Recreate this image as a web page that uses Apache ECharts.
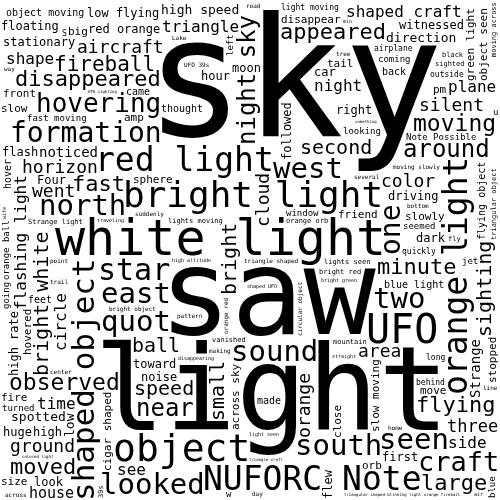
<!DOCTYPE html>
<html>
<head>
<meta charset="utf-8">
<script src="https://cdn.jsdelivr.net/npm/echarts@6/dist/echarts.min.js"></script>
<style>
  html, body { margin: 0; padding: 0; background: #fff; }
  #chart { width: 500px; height: 500px; }
</style>
</head>
<body>
<div id="chart"></div>
<script>
// words of the cloud and their weights (weight ~ font size in px)
const words = [
  'sky', 'saw', 'light', 'white light', 'UFO', 'object', 'bright light', 'NUFORC Note',
  'red light', 'orange light', 'shaped object', 'star', 'sound', 'quot', 'west', 'south',
  'north', 'two', 'looked', 'east', 'seen', 'formation', 'one', 'craft', 'hovering',
  'around', 'near', 'night sky', 'moving', 'observed', 'minute', 'moved', 'fast', 'flying',
  'disappeared', 'appeared', 'large', 'fireball', 'sighting', 'small', 'bright',
  'bright white', 'ball', 'second', 'speed', 'horizon', 'area', 'aircraft', 'color',
  'ground', 'went', 'silent', 'orange', 'cloud', 'three', 'time', 'night', 'side', 'shape',
  'plane', 'see', 'triangle', 'shaped craft', 'circle', 'flashing light', 'house',
  'noticed', 'Strange', 'low', 'direction', 'high speed', 'spotted', 'flying object',
  'cigar shaped', 'followed', 'green light', 'high rate', 'object seen', 'flew',
  'stationary', 'red orange', 'high', 'moon', 'low flying', 'floating', 'object moving',
  'noise', 'disappear', 'witnessed', 'fast moving', 'right', 'blue light', 'flash', 'dark',
  'huge', 'hour', 'driving', 'light moving', 'lights moving', 'toward', 'Four', 'first',
  'look', 'car', 'Note Possible', 'Strange light', 'moving slowly', 'bright red', 'thought',
  'slowly', 'orange orb', 'triangle shaped', 'close', 'slow moving', 'across sky',
  'hovered', 'tail', 'sphere', 'lights seen', 'looking', 'friend', 'big', 'move', 'size',
  'airplane', 'orb', 'slow', 'bright object', 'disappearing', 'front', 'mountain', 'fire',
  'pm', 'quickly', 'amp', 'stopped', 'turned', 'outside', 'vanished', 'feet', 'seemed',
  'made', 'came', 'window', 'coming', 'back', 'behind', 'hover', 'jet', 'going', 'left',
  'blue', 'orange ball', 'u', 'w', 'S', 'long', '39s', 'moving across', 'sighted',
  'suddenly', 'fly', 'high altitude', 'bright green', 'orange fireball', 'colored light',
  'black', 'pattern', 'UFO sighting', 'triangular object', 'light seen', 'road', 'home',
  'trail', 'bottom', 'making', 'UFO 39s', 'straight', 'traveling', 'tree', 'shaped UFO',
  'point', 'triangular shaped blinking light', 'across', 'Lake', 'several', 'orange red',
  'circular object', 'day', 'way', 'line', 'center', 'min', 'air', 'wife', 'something',
  'triangle craft'
];
const weights = [
  165, 120, 118, 50, 40, 38, 36, 33,
  33, 33, 31, 30, 29, 29, 29, 29,
  29, 29, 29, 29, 29, 28, 28, 27, 26,
  24, 24, 24, 23, 23, 22, 22, 22, 22,
  22, 22, 22, 21, 20, 20, 20,
  20, 20, 20, 20, 18, 18, 18, 18,
  18, 18, 18, 18, 18, 17, 16, 16, 16, 16,
  16, 16, 16, 16, 16, 16, 15,
  14, 14, 13, 13, 13, 13, 13,
  13, 12, 12, 12, 12, 12,
  12, 12, 12, 12, 12, 12, 12,
  12, 12, 12, 12, 12, 12, 12, 12,
  12, 12, 12, 12, 12, 12, 12, 12,
  12, 12, 12, 12, 12, 11, 11,
  11, 11, 11, 11, 11, 11,
  11, 11, 11, 11, 11, 11, 11, 11, 11,
  11, 11, 11, 11, 11, 11, 11, 11,
  11, 11, 11, 11, 10, 10, 10, 10, 10,
  10, 10, 10, 10, 10, 10, 10, 9, 9, 9,
  9, 9, 9, 9, 8, 8, 7, 7, 7,
  7, 7, 7, 7, 7, 7,
  7, 7, 7, 7, 6, 6, 6,
  6, 6, 6, 6, 6, 6, 6, 6,
  6, 6, 6, 6, 6, 6,
  6, 6, 6, 6, 6, 5, 5, 5, 4,
  4
];
// words that stand upright (read from bottom to top)
const verticalWords = [
  'orange light', 'shaped object', 'one', 'night sky', 'sighting', 'small', 'bright',
  'bright white', 'orange', 'cloud', 'circle', 'flashing light', 'Strange', 'low',
  'flying object', 'cigar shaped', 'followed', 'green light', 'high rate', 'object seen',
  'flew', 'close', 'slow moving', 'across sky', 'hovered', 'stopped', 'hover', 'going',
  'left', 'blue', 'orange ball', '39s', 'moving across', 'triangular object', 'orange red',
  'circular object', 'wife'
];

const FONT_FAMILY = '"DejaVu Sans Mono"';
const W = 500;
const H = 500;
const MARGIN = 2;
const MIN_SIZE = 4;
// where the layout starts (the heaviest word goes there) and the centre of the
// spiral the other words follow, as shares of width/height
const START = [0.6, 0.18];
const CENTER = [0.52, 0.66];
const TURN = -3.5;

// place the words: biggest first, each in the free box nearest to its spot on a
// golden-angle spiral, shrinking the word when no free box is left
function layoutWords() {
  const occ = new Uint8Array(W * H);
  const integral = new Int32Array((W + 1) * (H + 1));
  const rebuild = () => {
    for (let y = 0; y < H; y++) {
      let row = 0;
      for (let x = 0; x < W; x++) {
        row += occ[y * W + x];
        integral[(y + 1) * (W + 1) + x + 1] = integral[y * (W + 1) + x + 1] + row;
      }
    }
  };
  const mctx = document.createElement('canvas').getContext('2d');
  const order = words.map((w, i) => i).sort((a, b) => weights[b] - weights[a]);
  const placed = [];

  order.forEach((idx, k) => {
    const text = words[idx];
    const vertical = verticalWords.includes(text);
    let tx = W * START[0];
    let ty = H * START[1];
    if (k > 0) {
      const ang = k * 2.39996 + TURN;
      const rad = 360 * Math.sqrt((k + 0.5) / order.length);
      tx = Math.min(W, Math.max(0, W * CENTER[0] + rad * Math.cos(ang)));
      ty = Math.min(H, Math.max(0, H * CENTER[1] + rad * Math.sin(ang)));
    }

    for (let size = weights[idx]; size >= MIN_SIZE; size--) {
      const font = size + 'px ' + FONT_FAMILY;
      mctx.font = font;
      mctx.textAlign = 'left';
      mctx.textBaseline = 'middle';
      const m = mctx.measureText(text);
      const L = Math.ceil(m.actualBoundingBoxLeft);
      const R = Math.ceil(m.actualBoundingBoxRight);
      const A = Math.ceil(m.actualBoundingBoxAscent);
      const D = Math.ceil(m.actualBoundingBoxDescent);
      const bw = (vertical ? A + D : L + R) + 2 * MARGIN;
      const bh = (vertical ? L + R : A + D) + 2 * MARGIN;
      if (bw > W || bh > H) continue;

      let best = -1;
      let bestD = Infinity;
      for (let y = 0; y + bh <= H; y++) {
        const r0 = y * (W + 1);
        const r1 = (y + bh) * (W + 1);
        const cy = y + bh / 2 - ty;
        for (let x = 0; x + bw <= W; x++) {
          if (integral[r1 + x + bw] - integral[r0 + x + bw] - integral[r1 + x] + integral[r0 + x] === 0) {
            const cx = x + bw / 2 - tx;
            const d = cx * cx + cy * cy;
            if (d < bestD) { bestD = d; best = y * W + x; }
          }
        }
      }
      if (best < 0) continue;

      const bx = best % W;
      const by = Math.floor(best / W);
      const px = vertical ? MARGIN + A : MARGIN + L;
      const py = vertical ? MARGIN + R : MARGIN + A;

      // mark the ink of the word as taken
      const c = document.createElement('canvas');
      c.width = bw;
      c.height = bh;
      const ctx = c.getContext('2d');
      ctx.font = font;
      ctx.textAlign = 'left';
      ctx.textBaseline = 'middle';
      ctx.translate(px, py);
      if (vertical) ctx.rotate(-Math.PI / 2);
      ctx.fillText(text, 0, 0);
      const img = ctx.getImageData(0, 0, bw, bh).data;
      for (let y = 0; y < bh; y++) {
        for (let x = 0; x < bw; x++) {
          if (img[(y * bw + x) * 4 + 3] > 0) occ[(by + y) * W + bx + x] = 1;
        }
      }
      rebuild();
      placed.push({ text, size, vertical, x: bx + px, y: by + py });
      break;
    }
  });
  return placed;
}

const placed = layoutWords();
const chart = echarts.init(document.getElementById('chart'));
chart.setOption({
  backgroundColor: '#fff',
  animation: false,
  grid: { left: 0, right: 0, top: 0, bottom: 0 },
  xAxis: { type: 'value', min: 0, max: W, show: false },
  yAxis: { type: 'value', min: 0, max: H, inverse: true, show: false },
  series: [{
    type: 'custom',
    clip: false,
    silent: true,
    encode: { x: 0, y: 1 },
    data: placed.map((p, i) => [p.x, p.y, p.size, p.vertical ? 1 : 0, i]),
    renderItem(params, api) {
      const pt = api.coord([api.value(0), api.value(1)]);
      const p = placed[api.value(4)];
      return {
        type: 'text',
        x: pt[0],
        y: pt[1],
        rotation: api.value(3) ? Math.PI / 2 : 0,
        style: {
          text: p.text,
          font: api.value(2) + 'px ' + FONT_FAMILY,
          fill: '#000',
          align: 'left',
          verticalAlign: 'middle'
        }
      };
    }
  }]
});
</script>
</body>
</html>
